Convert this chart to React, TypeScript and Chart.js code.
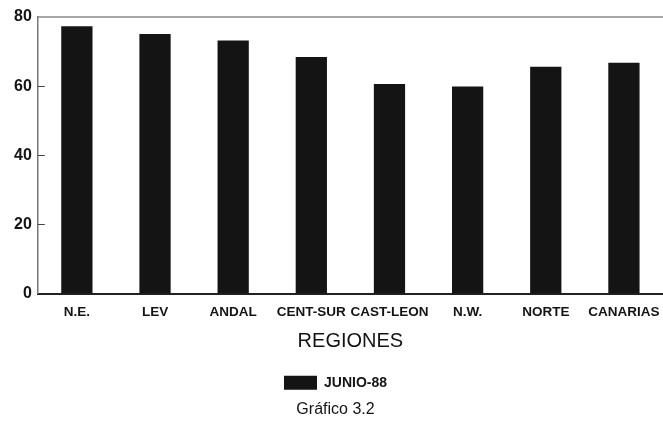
import React, { useEffect, useRef } from "react";
import { Chart, registerables } from "chart.js";

Chart.register(...registerables);

const categories = ["N.E.", "LEV", "ANDAL", "CENT-SUR", "CAST-LEON", "N.W.", "NORTE", "CANARIAS"];
const seriesLabel = "JUNIO-88";
const values = [77.3, 75.1, 73.2, 68.4, 60.6, 59.9, 65.6, 66.8];
const yTicks = [0, 20, 40, 60, 80];
const axisTitle = "REGIONES";
const caption = "Gráfico 3.2";

const FONT = "'Liberation Sans', Arial, Helvetica, sans-serif";
const INK = "#141414";

const framePlugin = {
  id: "frame",
  afterDatasetsDraw(chart: any) {
    const { ctx, chartArea: a, scales } = chart;
    const y = scales.y;
    ctx.save();
    ctx.strokeStyle = "#8a8a8a";
    ctx.lineWidth = 1.5;
    ctx.beginPath();
    ctx.moveTo(a.left, a.top);
    ctx.lineTo(a.right, a.top);
    ctx.stroke();
    ctx.strokeStyle = "#444";
    ctx.lineWidth = 1;
    ctx.beginPath();
    y.ticks.forEach((t: any) => {
      if (t.value === 0 || t.value === 80) return;
      const py = Math.round(y.getPixelForValue(t.value)) + 0.5;
      ctx.moveTo(a.left, py);
      ctx.lineTo(a.left + 7, py);
    });
    ctx.stroke();
    ctx.restore();
  },
};

export default function App() {
  const ref = useRef<HTMLCanvasElement | null>(null);
  useEffect(() => {
    if (!ref.current) return;
    const chart = new Chart(ref.current, {
      type: "bar",
      data: {
        labels: categories,
        datasets: [
          {
            label: seriesLabel,
            data: values,
            backgroundColor: INK,
            borderWidth: 0,
            categoryPercentage: 1,
            barPercentage: 0.4,
          },
        ],
      },
      options: {
        animation: false,
        responsive: false,
        layout: { padding: { left: 8, right: 0, top: 17, bottom: 3 } },
        plugins: {
          legend: {
            position: "bottom",
            labels: {
              boxWidth: 33,
              boxHeight: 14,
              color: INK,
              font: { family: FONT, size: 14, weight: "bold" },
              padding: 7,
            },
          },
          subtitle: {
            display: true,
            position: "bottom",
            text: caption,
            color: INK,
            font: { family: FONT, size: 16, weight: "normal" },
            padding: { top: 0, bottom: 4 },
          },
          tooltip: { enabled: false },
        },
        scales: {
          x: {
            grid: {
              display: true,
              drawOnChartArea: false,
              drawTicks: true,
              tickLength: 10,
              tickColor: "rgba(0,0,0,0)",
            },
            border: { display: true, color: "#222", width: 2 },
            ticks: {
              color: INK,
              font: { family: FONT, size: 13.5, weight: "bold" },
              padding: 1,
              maxRotation: 0,
              autoSkip: false,
            },
            title: {
              display: true,
              text: axisTitle,
              color: INK,
              font: { family: FONT, size: 20, weight: "normal" },
              padding: { top: 8, bottom: 15 },
            },
          },
          y: {
            min: 0,
            max: 80,
            afterBuildTicks: (scale: any) => {
              scale.ticks = yTicks.map((v) => ({ value: v }));
            },
            grid: { display: false, drawTicks: false },
            border: { display: true, color: "#777", width: 1.5 },
            ticks: {
              color: INK,
              font: { family: FONT, size: 16, weight: "bold" },
              padding: 6,
            },
          },
        },
      },
      plugins: [framePlugin],
    });
    return () => chart.destroy();
  }, []);
  return (
    <div style={{ position: "fixed", left: 0, top: 0, width: 663, height: 426, background: "#fff", overflow: "hidden" }}>
      <canvas ref={ref} width={663} height={426} style={{ display: "block" }} />
    </div>
  );
}
